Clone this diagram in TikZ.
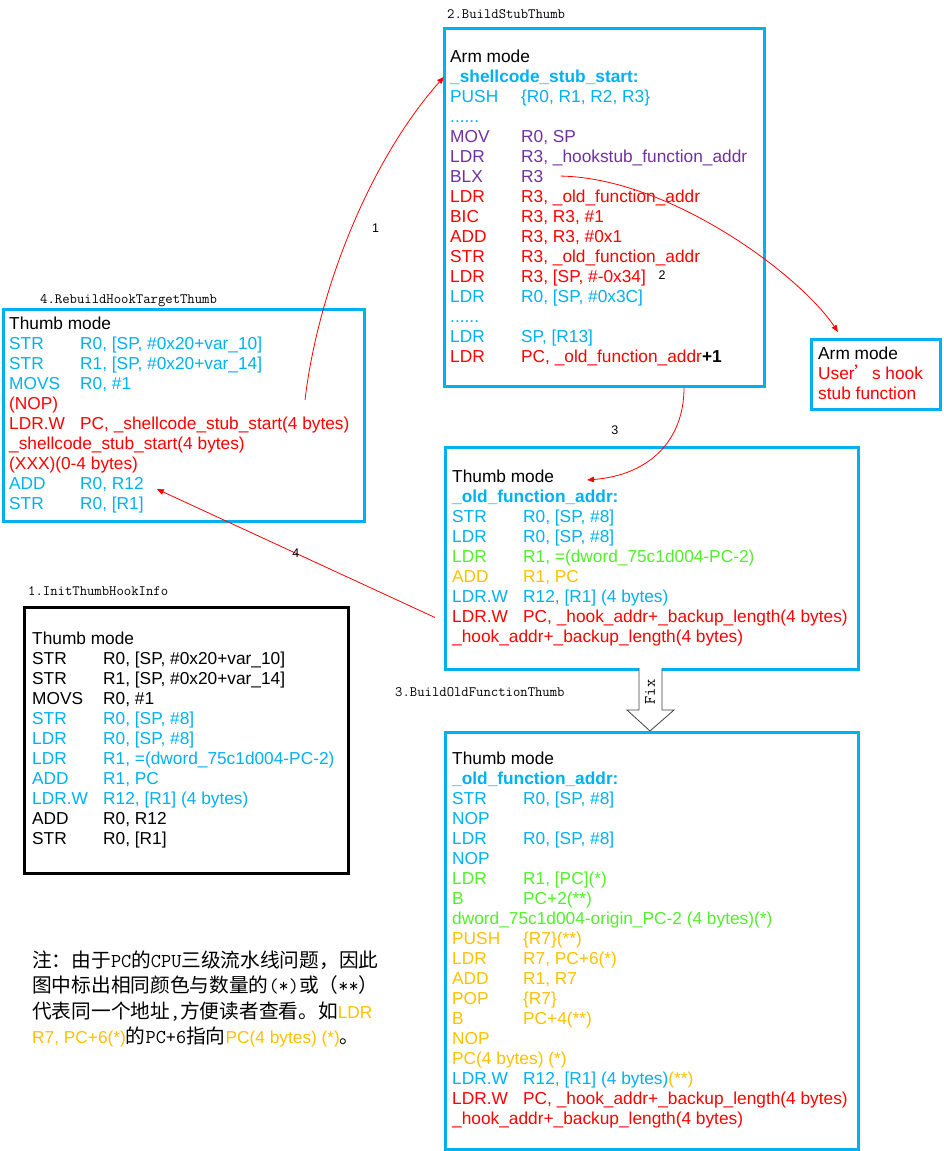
\documentclass[tikz,border=0pt]{standalone}
\usepackage{fontspec}
\setmainfont{Liberation Sans}
\newfontfamily\cjk{Noto Sans CJK SC}
\usetikzlibrary{arrows.meta, calc}

\definecolor{codeblue}{RGB}{0,176,240}
\definecolor{codepurple}{RGB}{112,48,160}
\definecolor{codered}{RGB}{255,0,0}
\definecolor{codegreen}{RGB}{80,240,40}
\definecolor{codeorange}{RGB}{255,192,0}

% mnemonic column + operands
\newcommand{\op}[2]{\makebox[71pt][l]{#1}#2}

\begin{document}
\begin{tikzpicture}[
    x=1pt, y=-1pt,
    codebox/.style={draw=codeblue, line width=2.6pt, anchor=north west, inner sep=0pt},
    codeline/.style={anchor=base west, inner sep=0pt, font=\fontsize{17.3}{20}\selectfont},
    boxtitle/.style={anchor=base west, inner sep=0pt, font=\ttfamily\fontsize{14.3}{16}\selectfont},
    steplabel/.style={inner sep=1pt, font=\fontsize{12.5}{13}\selectfont},
    jump/.style={draw=codered, line width=0.8pt, -{Triangle[length=7pt, width=5.5pt]}},
    ]
    \useasboundingbox (0,0) rectangle (943,1151);

    % 2. stub (top)
    \node[boxtitle] (stubtitle) at (447,18) {2.BuildStubThumb};
    \node[codebox, minimum width=320pt, minimum height=358pt] (stub) at (443,27) {};
    \foreach \col/\txt [count=\i] in {
        black/{Arm mode},
        codeblue/{\textbf{\_shellcode\_stub\_start:}},
        codeblue/{\op{PUSH}{\{R0, R1, R2, R3\}}},
        codeblue/{.{}.{}.{}.{}.{}.},
        codepurple/{\op{MOV}{R0, SP}},
        codepurple/{\op{LDR}{R3, \_hookstub\_function\_addr}},
        codepurple/{\op{BLX}{R3}},
        codered/{\op{LDR}{R3, \_old\_function\_addr}},
        codered/{\op{BIC}{R3, R3, \#1}},
        codered/{\op{ADD}{R3, R3, \#0x1}},
        codered/{\op{STR}{R3, \_old\_function\_addr}},
        codered/{\op{LDR}{R3, [SP, \#-0x34]}},
        codeblue/{\op{LDR}{R0, [SP, \#0x3C]}},
        codeblue/{.{}.{}.{}.{}.{}.},
        codeblue/{\op{LDR}{SP, [R13]}},
        codered/{\op{LDR}{PC, \_old\_function\_addr\textcolor{black}{\textbf{+1}}}}}
        \node[codeline, text=\col] (stub-\i) at (450,42+20*\i) {\txt};

    % user hook (right)
    \node[codebox, minimum width=129pt, minimum height=70pt] (user) at (810,338) {};
    \foreach \col/\txt [count=\i] in {black/{Arm mode}, codered/{User{\cjk ’}s hook}, codered/{stub function}}
        \node[codeline, text=\col] (user-\i) at (818,339+20*\i) {\txt};

    % 4. rebuilt target (left)
    \node[boxtitle] (rhttitle) at (40,303) {4.RebuildHookTargetThumb};
    \node[codebox, minimum width=361pt, minimum height=212pt] (rht) at (2,308) {};
    \foreach \col/\txt [count=\i] in {
        black/{Thumb mode},
        codeblue/{\op{STR}{R0, [SP, \#0x20+var\_10]}},
        codeblue/{\op{STR}{R1, [SP, \#0x20+var\_14]}},
        codeblue/{\op{MOVS}{R0, \#1}},
        codered/{(NOP)},
        codered/{\op{LDR.W}{PC, \_shellcode\_stub\_start(4 bytes)}},
        codered/{\_shellcode\_stub\_start(4 bytes)},
        codered/{(XXX)(0-4 bytes)},
        codeblue/{\op{ADD}{R0, R12}},
        codeblue/{\op{STR}{R0, [R1]}}}
        \node[codeline, text=\col] (rht-\i) at (9,309+20*\i) {\txt};

    % old function (middle)
    \node[codebox, minimum width=413pt, minimum height=222pt] (mid) at (444,446) {};
    \foreach \col/\txt [count=\i] in {
        black/{Thumb mode},
        codeblue/{\textbf{\_old\_function\_addr:}},
        codeblue/{\op{STR}{R0, [SP, \#8]}},
        codeblue/{\op{LDR}{R0, [SP, \#8]}},
        codegreen/{\op{LDR}{R1, =(dword\_75c1d004-PC-2)}},
        codeorange/{\op{ADD}{R1, PC}},
        codeblue/{\op{LDR.W}{R12, [R1] (4 bytes)}},
        codered/{\op{LDR.W}{PC, \_hook\_addr+\_backup\_length(4 bytes)}},
        codered/{\_hook\_addr+\_backup\_length(4 bytes)}}
        \node[codeline, text=\col] (mid-\i) at (452,462+20*\i) {\txt};

    % 3. fixed old function (bottom)
    \node[boxtitle] (fixedtitle) at (395,696) {3.BuildOldFunctionThumb};
    \draw[fill=white, draw=black!75, line width=0.8pt] (639,668) -- (639,710) -- (627,710)
        -- (650,731) -- (674,710) -- (662,710) -- (662,668);
    \node[rotate=90, inner sep=0pt, font=\ttfamily\fontsize{16}{18}\selectfont] (fixlabel) at (650,692) {Fix};
    \node[codebox, minimum width=413pt, minimum height=417pt] (fixed) at (444,731) {};
    \foreach \col/\txt [count=\i] in {
        black/{Thumb mode},
        codeblue/{\textbf{\_old\_function\_addr:}},
        codeblue/{\op{STR}{R0, [SP, \#8]}},
        codeblue/{NOP},
        codeblue/{\op{LDR}{R0, [SP, \#8]}},
        codeblue/{NOP},
        codegreen/{\op{LDR}{R1, [PC](*)}},
        codegreen/{\op{B}{PC+2(**)}},
        codegreen/{dword\_75c1d004-origin\_PC-2 (4 bytes)(*)},
        codeorange/{\op{PUSH}{\{R7\}(**)}},
        codeorange/{\op{LDR}{R7, PC+6(*)}},
        codeorange/{\op{ADD}{R1, R7}},
        codeorange/{\op{POP}{\{R7\}}},
        codeorange/{\op{B}{PC+4(**)}},
        codeorange/{NOP},
        codeorange/{PC(4 bytes) (*)},
        codeblue/{\op{LDR.W}{R12, [R1] (4 bytes)\textcolor{codeorange}{(**)}}},
        codered/{\op{LDR.W}{PC, \_hook\_addr+\_backup\_length(4 bytes)}},
        codered/{\_hook\_addr+\_backup\_length(4 bytes)}}
        \node[codeline, text=\col] (fixed-\i) at (452,744+20*\i) {\txt};

    % 1. init info (lower left)
    \node[boxtitle] (inittitle) at (28,595) {1.InitThumbHookInfo};
    \node[codebox, draw=black, minimum width=324pt, minimum height=266pt] (init) at (23,606) {};
    \foreach \col/\txt [count=\i] in {
        black/{Thumb mode},
        black/{\op{STR}{R0, [SP, \#0x20+var\_10]}},
        black/{\op{STR}{R1, [SP, \#0x20+var\_14]}},
        black/{\op{MOVS}{R0, \#1}},
        codeblue/{\op{STR}{R0, [SP, \#8]}},
        codeblue/{\op{LDR}{R0, [SP, \#8]}},
        codeblue/{\op{LDR}{R1, =(dword\_75c1d004-PC-2)}},
        codeblue/{\op{ADD}{R1, PC}},
        codeblue/{\op{LDR.W}{R12, [R1] (4 bytes)}},
        black/{\op{ADD}{R0, R12}},
        black/{\op{STR}{R0, [R1]}}}
        \node[codeline, text=\col] (init-\i) at (32,624+20*\i) {\txt};

    % note
    \node[anchor=base west, inner sep=0pt, font=\cjk\fontsize{19.7}{25}\selectfont] (note-1) at (32,967)
        {注：由于{\ttfamily PC}的{\ttfamily CPU}三级流水线问题，因此};
    \node[anchor=base west, inner sep=0pt, font=\cjk\fontsize{19.7}{25}\selectfont] (note-2) at (32,992)
        {图中标出相同颜色与数量的{\ttfamily (*)}或（{\ttfamily **}）};
    \node[anchor=base west, inner sep=0pt, font=\cjk\fontsize{19.7}{25}\selectfont] (note-3) at (32,1018)
        {代表同一个地址{\ttfamily ,}方便读者查看。如{\rmfamily\fontsize{17.3}{20}\selectfont\color{codeorange}LDR}};
    \node[anchor=base west, inner sep=0pt, font=\cjk\fontsize{19.7}{25}\selectfont] (note-4) at (32,1043)
        {{\rmfamily\fontsize{17.3}{20}\selectfont\color{codeorange}R7, PC+6(*)}的{\ttfamily PC+6}指向{\rmfamily\fontsize{17.3}{20}\selectfont\color{codeorange}PC(4 bytes) (*)}。};

    % connectors
    \coordinate (hookjump) at (305,400);
    \draw[jump] (hookjump) .. controls (318,290) and (370,160) .. ([xshift=-6pt]stub-2.west)
        node[steplabel, pos=0.5, xshift=24pt] {1};
    \draw[jump] ([xshift=17pt]stub-7.east) .. controls (670,178) and (800,275) .. ($(user.north west)+(28,-6)$)
        node[steplabel, pos=0.5, xshift=-64pt, yshift=-42pt] {2};
    \draw[jump] ($(stub.south west)+(241,0)$) .. controls (684,440) and (650,475) .. ($(mid.north west)+(143,34)$)
        node[steplabel, pos=0.3, xshift=-60pt] {3};
    \draw[jump] ([xshift=-17pt]mid-8.west) -- ($(rht-9.east)+(13,5)$)
        node[steplabel, midway] {4};
\end{tikzpicture}
\end{document}
